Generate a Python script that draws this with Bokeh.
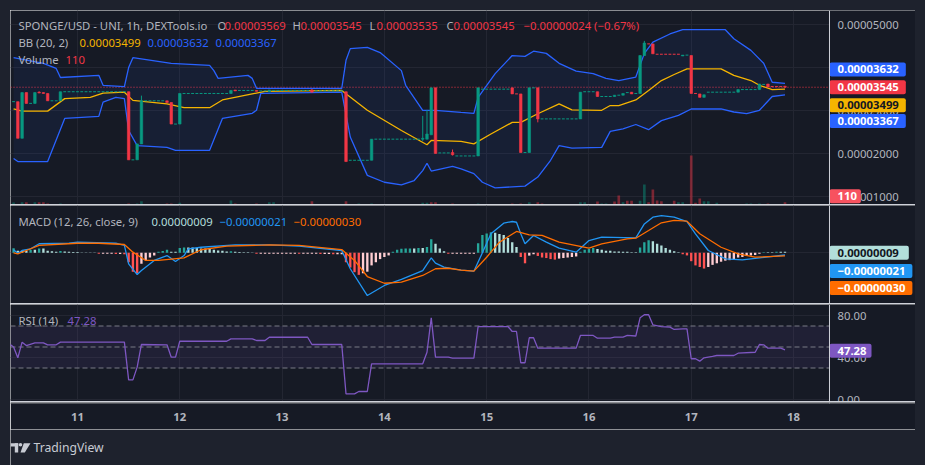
import numpy as np
from bokeh.plotting import figure
from bokeh.layouts import column, row
from bokeh.models import (Range1d, LinearAxis, FixedTicker, Label, Span, BoxAnnotation, Spacer, Grid)
from bokeh.embed import file_html
from bokeh.resources import INLINE

# ---------------- data ----------------
# time axis: hours after 10 Oct 00:00 (1h candles); prices in units of 1e-5 USD
DAY_TICKS = [24, 48, 72, 96, 120, 144, 168, 192]
DAY_LABELS = ["11", "12", "13", "14", "15", "16", "17", "18"]

CANDLE_H = [10, 11, 12, 14, 15, 16, 17, 20, 36, 38, 39, 45, 46, 48, 60, 61, 66, 69, 79, 87,
            93, 105, 106, 107, 108, 112, 118, 126, 128, 130, 132, 142, 146, 150, 152, 154, 156, 157, 159, 166,
            168, 170, 171, 179, 184, 186, 190]
CANDLE_O = [3.21, 2.36, 3.42, 3.17, 3.43, 3.42, 3.40, 3.23, 3.44, 1.86, 2.23, 3.23, 3.19, 2.69, 3.40, 3.48, 3.47, 3.44, 3.48, 3.44,
            1.85, 2.34, 2.34, 2.44, 3.53, 2.03, 1.95, 3.53, 3.39, 2.03, 3.53, 2.81, 3.44, 3.33, 3.36, 3.43, 3.40, 4.28, 4.55, 4.27,
            4.28, 3.39, 3.31, 3.43, 3.49, 3.62, 3.569]
CANDLE_HI = [3.21, 3.42, 3.42, 3.42, 3.45, 3.42, 3.40, 3.44, 3.44, 2.23, 3.35, 3.23, 3.19, 3.40, 3.47, 3.48, 3.47, 3.48, 3.50, 3.44,
             2.34, 2.88, 3.02, 3.53, 3.53, 2.10, 3.53, 3.53, 3.39, 3.53, 3.53, 3.43, 3.44, 3.36, 3.40, 3.43, 4.28, 4.62, 4.55, 4.29,
             4.28, 3.39, 3.37, 3.49, 3.62, 3.62, 3.569]
CANDLE_LO = [2.36, 2.36, 3.17, 3.17, 3.41, 3.40, 3.23, 3.23, 1.86, 1.86, 2.23, 3.19, 2.69, 2.69, 3.40, 3.46, 3.45, 3.44, 3.43, 1.82,
             1.85, 2.30, 2.34, 2.44, 2.01, 1.96, 1.95, 3.39, 2.03, 2.03, 2.73, 2.81, 3.33, 3.33, 3.36, 3.39, 3.40, 4.28, 4.32, 4.27,
             3.40, 3.31, 3.31, 3.43, 3.49, 3.55, 3.535]
CANDLE_C = [2.36, 3.42, 3.17, 3.42, 3.41, 3.40, 3.23, 3.44, 1.86, 2.23, 3.23, 3.19, 2.69, 3.40, 3.47, 3.46, 3.45, 3.48, 3.43, 1.82,
            2.34, 2.36, 2.46, 3.53, 2.01, 1.98, 3.53, 3.39, 2.03, 3.53, 2.81, 3.43, 3.33, 3.36, 3.40, 3.39, 4.28, 4.57, 4.32, 4.29,
            3.40, 3.31, 3.37, 3.49, 3.62, 3.55, 3.545]

# hours without trades (flat candles): start hour, end hour, price, up-colour flag
FLAT_START = [9, 13, 18, 21, 37, 40, 47, 49, 62, 67, 70, 80, 88, 94, 109, 113, 119, 127, 129, 131,
              133, 143, 147, 151, 153, 155, 158, 160, 167, 169, 172, 180, 185, 187]
FLAT_END = [9, 13, 19, 35, 37, 44, 47, 59, 65, 68, 78, 86, 92, 104, 111, 117, 125, 127, 129, 131,
            141, 145, 149, 151, 153, 155, 158, 165, 167, 169, 178, 183, 185, 189]
FLAT_PRICE = [3.21, 3.17, 3.23, 3.44, 1.86, 3.23, 2.69, 3.40, 3.47, 3.46, 3.47, 3.46, 1.85, 2.34, 2.02, 1.95, 3.50, 3.39, 2.03, 3.53,
              2.81, 3.44, 3.33, 3.36, 3.42, 3.40, 4.55, 4.31, 4.29, 3.40, 3.43, 3.49, 3.61, 3.56]
FLAT_UP = [1, 1, 1, 1, 1, 1, 1, 1, 1, 1, 1, 1, 1, 1, 1, 1, 1, 0, 1, 1,
           1, 1, 1, 1, 1, 1, 0, 0, 1, 0, 1, 1, 1, 0]

VOL_H = [9, 11, 12, 14, 15, 16, 17, 20, 36, 38, 39, 45, 46, 48, 60, 61, 66, 69, 70, 79,
         87, 90, 93, 105, 106, 107, 108, 112, 118, 126, 128, 130, 132, 133, 142, 143, 146, 147, 148, 150,
         151, 152, 153, 154, 156, 157, 158, 159, 160, 161, 164, 165, 166, 168, 169, 170, 171, 172, 174, 181,
         182, 184, 186, 190]
VOL = [95, 110, 110, 110, 110, 110, 48, 48, 48, 48, 160, 48, 48, 80, 190, 48, 48, 110, 110, 160,
       160, 48, 48, 80, 80, 110, 110, 48, 48, 48, 48, 110, 110, 48, 110, 110, 145, 48, 48, 145,
       430, 110, 180, 180, 180, 960, 110, 720, 190, 160, 180, 110, 110, 2350, 80, 290, 160, 160, 80, 48,
       48, 48, 48, 110]
VOL_UP = [1, 1, 0, 1, 0, 0, 0, 1, 0, 1, 1, 0, 0, 1, 1, 0, 0, 1, 1, 0,
          0, 1, 1, 1, 1, 0, 0, 0, 1, 0, 0, 1, 0, 0, 1, 1, 0, 1, 1, 0,
          0, 1, 0, 0, 1, 1, 0, 0, 0, 0, 0, 1, 1, 0, 0, 0, 1, 1, 1, 1,
          1, 1, 0, 0]

BB_UP_H = [9, 16, 19, 20, 29, 30, 35, 36, 37, 46, 55, 56, 57, 64, 65, 66, 86, 87, 88, 92,
           95, 100, 101, 105, 108, 114, 117, 118, 122, 126, 129, 131, 134, 137, 141, 145, 148, 151, 155, 157,
           159, 163, 166, 176, 178, 182, 185, 187, 190]
BB_UP = [4.23, 4.10, 3.98, 3.77, 3.82, 3.59, 3.56, 4.00, 4.23, 4.10, 4.05, 3.93, 3.75, 3.82, 3.75, 3.52, 3.52, 4.17, 4.44, 4.47,
         4.35, 3.93, 3.59, 3.01, 3.01, 2.96, 2.94, 3.31, 3.86, 4.28, 4.26, 4.38, 4.33, 4.10, 3.92, 3.86, 3.75, 3.70, 3.78, 4.33,
         4.59, 4.78, 4.88, 4.88, 4.67, 4.40, 4.10, 3.66, 3.632]
BB_LO_H = [9, 10, 17, 21, 29, 30, 33, 35, 36, 38, 45, 47, 55, 58, 65, 66, 67, 86, 88, 92,
           96, 100, 103, 105, 106, 107, 112, 114, 117, 119, 122, 129, 132, 135, 137, 140, 147, 149, 152, 155,
           158, 161, 165, 168, 175, 178, 181, 184, 187, 190]
BB_LO = [1.89, 1.82, 1.82, 2.82, 2.87, 3.20, 3.31, 3.28, 2.54, 2.19, 2.15, 2.08, 2.08, 2.82, 2.94, 3.01, 3.40, 3.43, 2.39, 1.50,
         1.34, 1.28, 1.38, 1.61, 1.78, 1.60, 1.71, 1.65, 1.54, 1.34, 1.21, 1.25, 1.46, 1.85, 2.19, 2.13, 2.15, 2.52, 2.58, 2.68,
         2.56, 2.77, 2.89, 3.04, 3.04, 2.97, 2.93, 3.01, 3.33, 3.367]
BB_MID_H = [9, 11, 17, 21, 27, 30, 35, 37, 45, 49, 55, 58, 65, 68, 86, 92, 100, 106, 107, 114,
            117, 121, 126, 128, 132, 137, 140, 147, 149, 151, 155, 158, 161, 164, 167, 175, 178, 182, 184, 187, 190]
BB_MID = [3.04, 2.99, 2.99, 3.28, 3.31, 3.41, 3.43, 3.24, 3.16, 3.07, 3.07, 3.25, 3.39, 3.45, 3.47, 3.01, 2.54, 2.21, 2.31, 2.29,
          2.23, 2.46, 2.73, 2.73, 2.93, 3.16, 3.02, 3.01, 3.12, 3.12, 3.25, 3.47, 3.70, 3.84, 3.97, 3.97, 3.82, 3.70, 3.59, 3.49, 3.499]

# MACD values in units of 1e-6
HIST_START = 9
HIST = [0.44, 0.2, 0.2, 0.2, 0.3, 0.3, 0.4, 0.4, 0.2, 0.15,
        0.1, 0.18, 0.12, 0.1, 0.08, 0.08, 0.03, 0.03, 0.03, 0.03,
        -0.1, -0.1, -0.1, -0.1, -0.12, -0.12, -0.15, -0.9, -1.8, -1.95,
        -1.05, -0.7, -0.45, -0.25, 0.1, 0.18, 0.3, 0.1, 0.1, 0.45,
        0.5, 0.5, 0.5, 0.45, 0.42, 0.4, 0.35, 0.3, 0.22, 0.2,
        0.12, 0.15, 0.1, 0.08, 0.06, 0.05, 0.03, -0.08, -0.08, -0.08,
        -0.08, -0.08, -0.08, -0.08, -0.08, -0.08, -0.08, -0.1, -0.1, -0.1,
        -0.1, -0.1, -0.12, -0.12, -0.12, -0.15, -0.15, -0.15, -0.9, -1.4,
        -1.85, -2.1, -1.95, -1.8, -1.2, -0.9, -0.6, -0.4, -0.25, 0.1,
        0.3, 0.38, 0.4, 0.42, 0.42, 0.45, 0.45, 0.55, 1.3, 0.85,
        0.4, 0.15, -0.1, -0.1, -0.1, -0.1, -0.1, -0.1, -0.1, 0.9,
        1.7, 1.85, 1.95, 1.9, 1.8, 1.7, 1.4, 1.0, 0.55, -0.4,
        -1.0, -0.27, -0.15, -0.3, -0.45, -0.5, -0.6, -0.65, -0.55, -0.5,
        -0.45, -0.4, -0.35, 0.1, 0.3, 0.35, 0.45, 0.35, 0.3, 0.2,
        0.2, 0.12, 0.12, 0.1, 0.1, 0.06, 0.06, 0.5, 1.0, 1.2,
        1.1, 0.85, 0.7, 0.45, 0.3, 0.15, 0.05, -0.15, -0.25, -0.8,
        -1.2, -1.35, -1.5, -1.35, -1.15, -1.0, -0.85, -0.75, -0.7, -0.6,
        -0.45, -0.4, -0.3, -0.25, -0.2, -0.1, 0.06, 0.06, 0.06, 0.1,
        0.1, 0.09]
MACD_H = [9, 10, 11, 13, 15, 22, 24, 33, 35, 36, 38, 39, 42, 45, 47, 49, 50, 53, 61, 69,
          76, 86, 88, 92, 96, 100, 105, 107, 108, 110, 114, 117, 119, 121, 124, 126, 127, 128, 129, 131,
          134, 137, 141, 144, 147, 155, 157, 159, 161, 164, 167, 169, 172, 176, 180, 184, 190]
MACD = [0.29, -0.04, 0.22, 0.38, 0.86, 0.91, 1.01, 0.91, 0.70, -1.05, -2.07, -1.69, -0.73, -0.26, -0.83, -0.26, 0.38, 0.53, 0.76, 0.76,
        0.63, 0.22, -1.52, -4.07, -3.11, -2.54, -1.69, -0.48, -0.99, -1.37, -1.65, -1.75, 0.0, 1.81, 2.82, 2.98, 2.91, 1.81, 0.86, 1.65,
        1.01, 0.44, 0.06, 1.17, 1.49, 1.43, 2.75, 3.39, 3.55, 3.39, 2.98, 1.81, 0.22, -0.57, -0.67, -0.48, -0.21]
SIG_H = [9, 10, 12, 15, 24, 29, 35, 37, 40, 43, 49, 53, 59, 69, 76, 86, 89, 92, 96, 100,
         105, 108, 111, 114, 117, 120, 123, 127, 130, 133, 137, 144, 147, 153, 155, 158, 161, 164, 167, 170,
         175, 179, 183, 190]
SIG = [0.0, -0.1, 0.22, 0.70, 0.91, 0.91, 0.79, 0.06, -0.73, -0.73, -0.48, 0.29, 0.63, 0.76, 0.70, 0.31, -0.73, -2.26, -2.90, -2.80,
       -2.16, -1.52, -1.47, -1.65, -1.75, -0.42, 1.01, 2.03, 1.71, 1.65, 1.01, 0.44, 0.86, 1.33, 1.39, 2.12, 2.86, 3.08, 3.01, 1.81,
       0.53, -0.10, -0.42, -0.30]

RSI_H = [8, 9, 10, 11, 12, 14, 16, 17, 19, 20, 35, 36, 37, 38, 39, 45, 46, 47, 48, 59,
         60, 65, 66, 68, 69, 78, 79, 86, 87, 89, 90, 92, 93, 105, 106, 107, 108, 111, 112, 117,
         118, 125, 126, 127, 128, 129, 130, 131, 132, 141, 142, 145, 146, 149, 150, 152, 153, 155, 156, 157,
         158, 159, 161, 163, 164, 166, 167, 168, 169, 170, 171, 173, 174, 178, 179, 183, 184, 185, 186, 189, 190]
RSI = [53, 50, 39.7, 54.6, 51.4, 54, 54, 52.1, 52.1, 54.6, 54.6, 18.7, 18.7, 30.8, 52.4, 52.1, 40.3, 40.3, 55.5, 55.5,
       57.8, 57.8, 56.2, 56.2, 59.3, 59.3, 52.4, 52.4, 5.4, 5.4, 7.6, 7.6, 34.0, 34.0, 45.0, 77.8, 40.3, 40.3, 39.4, 39.4,
       69.5, 69.5, 64.8, 64.8, 35.0, 35.0, 58.8, 58.8, 48.9, 48.9, 61.0, 61.0, 58.4, 58.4, 59.4, 59.4, 61.0, 60.5, 77.8, 80.7,
       80.7, 71.1, 69.5, 68.9, 66.7, 67.3, 67.3, 38.8, 38.8, 36.5, 39.7, 41.0, 41.9, 41.9, 44.1, 45.0, 52.4, 52.1, 48.9, 48.9, 47.28]

PRICE_TICKS = [1, 2, 3, 4, 5]
RSI_TICKS = [0, 40, 80]

# ---------------- style ----------------
FONT = "Noto Sans"
FS = "11.3px"
BG = "#161a25"
OUTER = "#1e222d"
GRID = "#232632"
SEP = "#cfd2da"
TXT = "#b2b5be"
UP = "#089981"
DOWN = "#f23645"
BB_BLUE = "#2962ff"
BB_GOLD = "#f5b400"

PX = 1e-5
MX = 1e-6
X0, X_AX, X1 = 8.28, 200.44, 220.62      # left edge, price-scale edge, right edge (hours)
P_Y0, P_Y1 = 0.824 * PX, 5.325 * PX
M_Y0, M_Y1 = -4.829 * MX, 4.505 * MX
R_Y0, R_Y1 = -1.9, 90.48
VOL_MAX = 9312

xr = Range1d(X0, X1)


def base_fig(height, y0, y1, mb_bottom=0):
    p = figure(width=905, height=height, x_range=xr, y_range=Range1d(y0, y1),
               output_backend="svg", toolbar_location=None,
               x_axis_location=None, y_axis_location=None,
               min_border_left=0, min_border_right=0, min_border_top=0, min_border_bottom=mb_bottom,
               background_fill_color=BG, border_fill_color=BG, outline_line_color=None, margin=0)
    p.center = []          # drop the default (hidden-axis) grids
    return p


def add_grids(p, yticks):
    p.add_layout(Grid(dimension=0, ticker=FixedTicker(ticks=DAY_TICKS), grid_line_color=GRID))
    if yticks:
        p.add_layout(Grid(dimension=1, ticker=FixedTicker(ticks=yticks), grid_line_color=GRID))


def scale_strip(p):
    # background of the price-scale strip, covering grid lines there
    p.add_layout(BoxAnnotation(left=X_AX, fill_color=BG, fill_alpha=1, line_color=None, level="underlay"))


def scale_labels(p, ticks, texts):
    for t, s in zip(ticks, texts):
        p.add_layout(Label(x=X_AX, y=t, x_offset=8, text=s, text_color=TXT, text_font=FONT,
                           text_font_size=FS, text_align="left", text_baseline="middle"))


def scale_line(p):
    p.add_layout(Span(location=X_AX, dimension="height", line_color=SEP, line_width=1))


def legend(p, x_px, dy_px, text, color, y_top):
    p.add_layout(Label(x=X0, y=y_top, x_offset=x_px - 10, y_offset=-dy_px, text=text,
                       text_color=color, text_font=FONT, text_font_size=FS,
                       text_align="left", text_baseline="middle"))


def tag(p, y, text, bg, fg, dy, pad_r=7, y_range_name="default"):
    p.add_layout(Label(x=X_AX, y=y, y_offset=dy, text=text, text_color=fg, text_font=FONT,
                       text_font_size=FS, text_font_style="bold", text_align="left",
                       text_baseline="middle", background_fill_color=bg, border_radius=2,
                       padding=dict(left=8, right=pad_r, top=3, bottom=3),
                       y_range_name=y_range_name))


# ---------------- price pane ----------------
pp = base_fig(194, P_Y0, P_Y1)
pp.extra_y_ranges = {"vol": Range1d(0, VOL_MAX)}
add_grids(pp, [t * PX for t in PRICE_TICKS])
pp.add_layout(Span(location=CANDLE_C[-1] * PX, dimension="width", line_color=DOWN,
                   line_dash="1 2", line_width=1, level="underlay"))
scale_strip(pp)

pp.vbar(x=VOL_H, width=0.62, top=VOL, bottom=0, y_range_name="vol",
        fill_color=[UP if u else DOWN for u in VOL_UP], line_color=None, fill_alpha=0.45)

pp.patch(x=BB_UP_H + BB_LO_H[::-1], y=[v * PX for v in BB_UP + BB_LO[::-1]],
         fill_color=BB_BLUE, fill_alpha=0.07, line_color=None)
pp.line(BB_UP_H, [v * PX for v in BB_UP], line_color=BB_BLUE, line_width=1.3)
pp.line(BB_LO_H, [v * PX for v in BB_LO], line_color=BB_BLUE, line_width=1.3)
pp.line(BB_MID_H, [v * PX for v in BB_MID], line_color=BB_GOLD, line_width=1.3)

fx0, fx1, fy, fc = [], [], [], []
for s, e, pr, u in zip(FLAT_START, FLAT_END, FLAT_PRICE, FLAT_UP):
    for h in range(s, e + 1):
        fx0.append(h - 0.33)
        fx1.append(h + 0.33)
        fy.append(pr * PX)
        fc.append(UP if u else DOWN)
pp.segment(x0=fx0, y0=fy, x1=fx1, y1=fy, line_color=fc, line_width=1)

ccol = [UP if c >= o else DOWN for o, c in zip(CANDLE_O, CANDLE_C)]
pp.segment(x0=CANDLE_H, y0=[v * PX for v in CANDLE_LO], x1=CANDLE_H, y1=[v * PX for v in CANDLE_HI],
           line_color=ccol, line_width=1)
pp.vbar(x=CANDLE_H, width=0.6, top=[max(o, c) * PX for o, c in zip(CANDLE_O, CANDLE_C)],
        bottom=[min(o, c) * PX for o, c in zip(CANDLE_O, CANDLE_C)],
        fill_color=ccol, line_color=ccol, line_width=0.6)

legend(pp, 18, 15, "SPONGE/USD - UNI, 1h, DEXTools.io", TXT, P_Y1)
for lx, letter, vx, val in [(217, "O", 224, "0.00003569"), (292, "H", 300, "0.00003545"),
                            (369, "L", 376, "0.00003535"), (446, "C", 453, "0.00003545")]:
    legend(pp, lx, 15, letter, TXT, P_Y1)
    legend(pp, vx, 15, val, DOWN, P_Y1)
legend(pp, 523, 15, "\u22120.00000024 (\u22120.67%)", DOWN, P_Y1)
legend(pp, 18, 32, "BB (20, 2)", TXT, P_Y1)
legend(pp, 79, 32, "0.00003499", BB_GOLD, P_Y1)
legend(pp, 147, 32, "0.00003632", BB_BLUE, P_Y1)
legend(pp, 215, 32, "0.00003367", BB_BLUE, P_Y1)
legend(pp, 18, 49, "Volume", TXT, P_Y1)
legend(pp, 65, 49, "110", DOWN, P_Y1)

scale_labels(pp, [t * PX for t in PRICE_TICKS], ["%.8f" % (t * PX) for t in PRICE_TICKS])
tag(pp, BB_UP[-1] * PX, "0.00003632", BB_BLUE, "white", 14)
tag(pp, CANDLE_C[-1] * PX, "0.00003545", DOWN, "white", 0)
tag(pp, BB_MID[-1] * PX, "0.00003499", BB_GOLD, "#131722", -16)
tag(pp, BB_LO[-1] * PX, "0.00003367", BB_BLUE, "white", -26)
tag(pp, VOL[-1], "110", "#f7525f", "white", 6, pad_r=4, y_range_name="vol")
scale_line(pp)

# ---------------- MACD pane ----------------
pm = base_fig(98, M_Y0, M_Y1)
add_grids(pm, [0])
scale_strip(pm)
hist_h = [HIST_START + i for i in range(len(HIST))]
hcol = []
prev = 0.0
for v in HIST:
    if v >= 0:
        hcol.append("#26a69a" if v > prev else "#b2dfdb")
    else:
        hcol.append("#ff5252" if v < prev else "#ffcdd2")
    prev = v
pm.vbar(x=hist_h, width=0.55, top=[v * MX for v in HIST], bottom=0, fill_color=hcol, line_color=None)
pm.line(MACD_H, [v * MX for v in MACD], line_color="#2196f3", line_width=1.3)
pm.line(SIG_H, [v * MX for v in SIG], line_color="#ff6d00", line_width=1.3)
legend(pm, 18, 16, "MACD (12, 26, close, 9)", TXT, M_Y1)
legend(pm, 151, 16, "0.00000009", "#b2dfdb", M_Y1)
legend(pm, 219, 16, "\u22120.00000021", "#2196f3", M_Y1)
legend(pm, 293, 16, "\u22120.00000030", "#ff6d00", M_Y1)
tag(pm, HIST[-1] * MX, "0.00000009", "#b2dfdb", "#131722", -1, pad_r=10)
tag(pm, MACD[-1] * MX, "\u22120.00000021", "#2196f3", "white", -16, pad_r=7)
tag(pm, SIG[-1] * MX, "\u22120.00000030", "#ff6d00", "white", -32, pad_r=7)
scale_line(pm)

# ---------------- RSI pane ----------------
pr_ = base_fig(97, R_Y0, R_Y1)
add_grids(pr_, RSI_TICKS)
pr_.add_layout(BoxAnnotation(bottom=30, top=70, right=X_AX, fill_color="#7e57c2", fill_alpha=0.1,
                             line_color=None, level="underlay"))
for lvl in (70, 50, 30):
    pr_.add_layout(Span(location=lvl, dimension="width", line_color="#787b86",
                        line_dash="5 3", line_width=1, level="underlay"))
scale_strip(pr_)
pr_.line(RSI_H, RSI, line_color="#7e57c2", line_width=1.3)
legend(pr_, 18, 16, "RSI (14)", TXT, R_Y1)
legend(pr_, 67, 16, "47.28", "#7e57c2", R_Y1)
scale_labels(pr_, RSI_TICKS, ["%.2f" % t for t in RSI_TICKS])
tag(pr_, RSI[-1], "47.28", "#7e57c2", "white", -1, pad_r=5)
scale_line(pr_)

# ---------------- time axis ----------------
px_ = base_fig(27, 0, 1, mb_bottom=26)
xax = LinearAxis(ticker=FixedTicker(ticks=DAY_TICKS),
                 major_label_overrides={t: l for t, l in zip(DAY_TICKS, DAY_LABELS)},
                 axis_line_color=None, major_tick_line_color=None, minor_tick_line_color=None,
                 major_tick_in=0, major_tick_out=0, minor_tick_in=0, minor_tick_out=0,
                 major_label_text_color=TXT, major_label_text_font=FONT,
                 major_label_text_font_size=FS, major_label_text_font_style="bold",
                 major_label_standoff=9)
px_.add_layout(xax, "below")
scale_line(px_)

# ---------------- footer ----------------
ft = figure(width=905, height=36, x_range=Range1d(0, 905), y_range=Range1d(0, 36),
            output_backend="svg", toolbar_location=None, x_axis_location=None, y_axis_location=None,
            min_border_left=0, min_border_right=0, min_border_top=0, min_border_bottom=0,
            background_fill_color=OUTER, border_fill_color=OUTER, outline_line_color=None, margin=0)
ft.center = []
LOGO = "#c8cbd3"
ft.quad(left=[0, 4.3], right=[7.7, 7.7], bottom=[19, 13], top=[22.3, 22.3], fill_color=LOGO, line_color=None)
ft.scatter(x=[10], y=[20.7], size=3.6, fill_color=LOGO, line_color=None)
ft.patch(x=[13.3, 20, 14.3, 10], y=[22.3, 22.3, 13, 13], fill_color=LOGO, line_color=None)
ft.add_layout(Label(x=23, y=18.3, text="TradingView", text_color=LOGO, text_font=FONT,
                    text_font_size="12.2px", text_align="left", text_baseline="middle"))


def hsep(color):
    return Spacer(width=905, height=1, margin=0, styles={"background-color": color})


middle = column(Spacer(width=905, height=10, margin=0, styles={"background-color": OUTER}),
                pp, hsep(SEP), pm, hsep(SEP), pr_, hsep(SEP), px_, ft, spacing=0, margin=0)
layout = row(Spacer(width=10, height=465, margin=0, styles={"background-color": OUTER}),
             middle,
             Spacer(width=10, height=465, margin=0, styles={"background-color": OUTER}),
             spacing=0, margin=0)

open("out.html", "w").write(file_html(layout, INLINE))
